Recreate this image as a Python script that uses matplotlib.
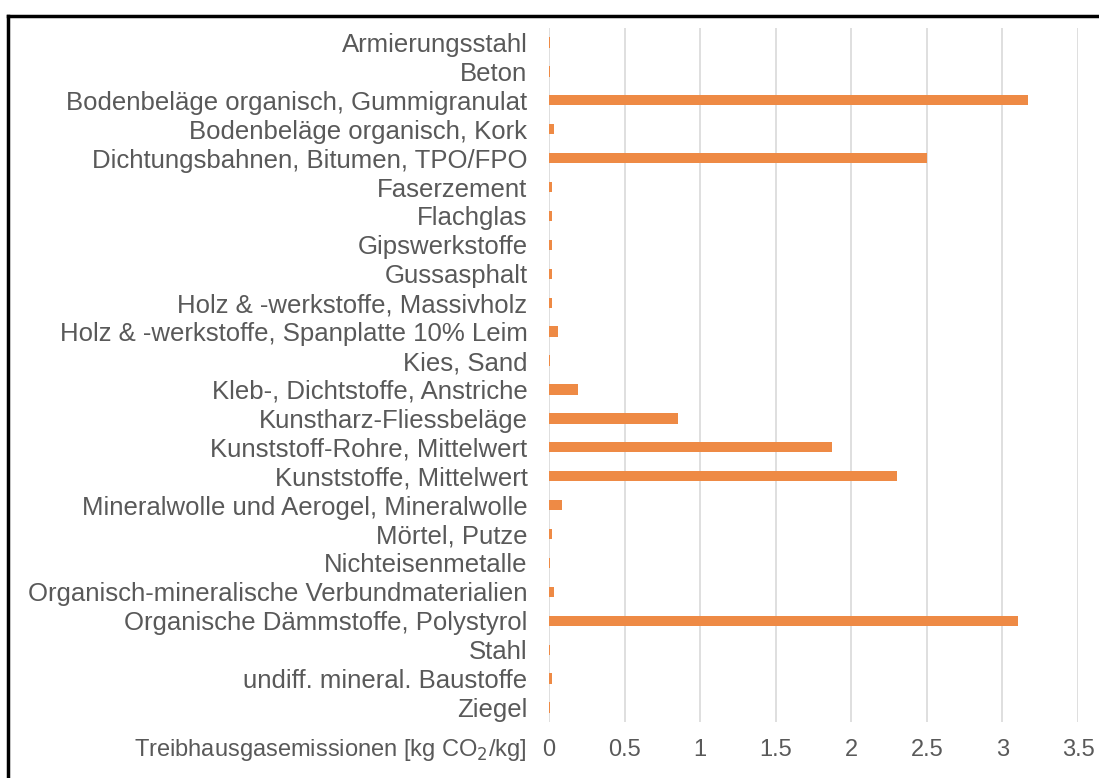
import matplotlib
matplotlib.use("Agg")
import matplotlib.pyplot as plt
from matplotlib.lines import Line2D

categories = [
    "Armierungsstahl",
    "Beton",
    "Bodenbeläge organisch, Gummigranulat",
    "Bodenbeläge organisch, Kork",
    "Dichtungsbahnen, Bitumen, TPO/FPO",
    "Faserzement",
    "Flachglas",
    "Gipswerkstoffe",
    "Gussasphalt",
    "Holz & -werkstoffe, Massivholz",
    "Holz & -werkstoffe, Spanplatte 10% Leim",
    "Kies, Sand",
    "Kleb-, Dichtstoffe, Anstriche",
    "Kunstharz-Fliessbeläge",
    "Kunststoff-Rohre, Mittelwert",
    "Kunststoffe, Mittelwert",
    "Mineralwolle und Aerogel, Mineralwolle",
    "Mörtel, Putze",
    "Nichteisenmetalle",
    "Organisch-mineralische Verbundmaterialien",
    "Organische Dämmstoffe, Polystyrol",
    "Stahl",
    "undiff. mineral. Baustoffe",
    "Ziegel",
]
values = [0.006, 0.004, 3.17, 0.03, 2.50, 0.018, 0.018, 0.018, 0.018, 0.018,
          0.062, 0.004, 0.19, 0.855, 1.87, 2.30, 0.084, 0.02, 0.006, 0.031,
          3.10, 0.004, 0.018, 0.006]
xticks = [0, 0.5, 1, 1.5, 2, 2.5, 3, 3.5]
xtick_labels = ["0", "0.5", "1", "1.5", "2", "2.5", "3", "3.5"]

plt.rcParams['font.family'] = ['Liberation Sans', 'DejaVu Sans']
text_color = "#595959"

fig = plt.figure(figsize=(10.99, 7.78), dpi=100)
ax = fig.add_axes([549/1099, 1-722/778, (1078-549)/1099, (722-28)/778])

ypos = list(range(len(categories)))
ax.barh(ypos, values, height=0.36, color="#EE8A45", zorder=3)
ax.set_ylim(len(categories) - 0.5, -0.5)
ax.set_xlim(0, 3.5)
ax.set_xticks(xticks)
ax.set_xticklabels(xtick_labels)
ax.set_yticks(ypos)
ax.set_yticklabels(categories)
ax.grid(axis="x", color="#D9D9D9", linewidth=1.2, zorder=0)
for s in ax.spines.values():
    s.set_visible(False)
ax.tick_params(axis="both", length=0, labelcolor=text_color)
ax.tick_params(axis="y", pad=15.5, labelsize=18.5)
ax.tick_params(axis="x", pad=12, labelsize=17)

fig.text(527/1099, 1-750/778, "Treibhausgasemissionen [kg CO$_2$/kg]",
         ha="right", va="center", fontsize=17, color=text_color)

# frame around figure
fig.add_artist(Line2D([8/1099, 8/1099], [0, 1-16/778], transform=fig.transFigure,
                      color="black", linewidth=2.5))
fig.add_artist(Line2D([8/1099, 1], [1-16/778, 1-16/778], transform=fig.transFigure,
                      color="black", linewidth=2.5))

fig.savefig("out.png", dpi=100)
